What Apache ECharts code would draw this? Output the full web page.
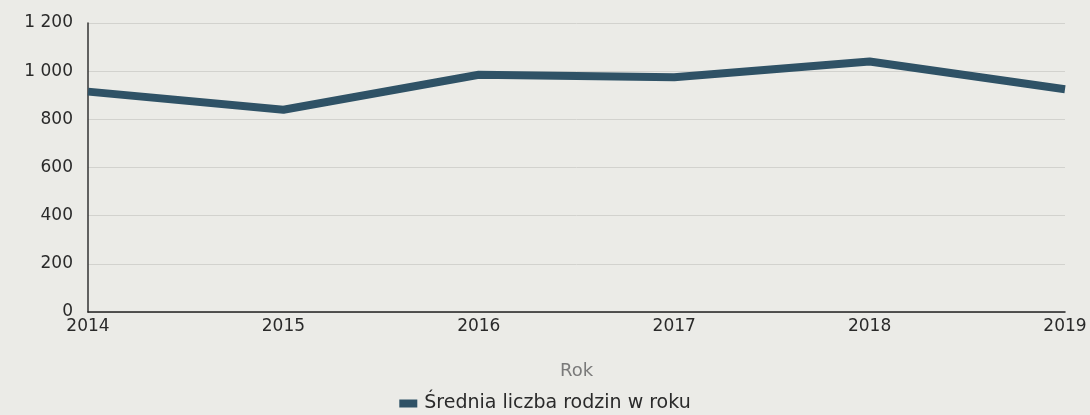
<!DOCTYPE html>
<html>
<head>
<meta charset="utf-8">
<script src="https://cdn.jsdelivr.net/npm/echarts@6/dist/echarts.min.js"></script>
<style>
  html, body { margin: 0; padding: 0; background: #ebebe7; }
  #chart { width: 1090px; height: 415px; }
</style>
</head>
<body>
<div id="chart"></div>
<script>
// dane
const lata = ['2014', '2015', '2016', '2017', '2018', '2019'];
const sredniaRodzin = [915, 840, 985, 975, 1040, 925];
const nazwaSerii = 'Średnia liczba rodzin w roku';

const chart = echarts.init(document.getElementById('chart'));

chart.setOption({
  backgroundColor: '#ebebe7',
  textStyle: { fontFamily: '"DejaVu Sans", "Open Sans", sans-serif' },
  grid: { left: 88, right: 25, top: 23, bottom: 103 },
  legend: {
    bottom: -3,
    left: 'center',
    itemWidth: 18,
    itemHeight: 8,
    itemGap: 8,
    icon: 'rect',
    textStyle: { fontSize: 19, color: '#2a2a2a', padding: [0, 0, 0, 2] },
    data: [nazwaSerii]
  },
  xAxis: {
    type: 'category',
    data: lata,
    boundaryGap: false,
    name: 'Rok',
    nameLocation: 'middle',
    nameGap: 50,
    nameTextStyle: { fontSize: 18, color: '#7a7a7a' },
    axisLine: { lineStyle: { color: '#222', width: 1.5 } },
    axisTick: { show: false },
    axisLabel: { fontSize: 17, color: '#2a2a2a', margin: 6 }
  },
  yAxis: {
    type: 'value',
    min: 0,
    max: 1200,
    interval: 200,
    axisLine: { show: true, lineStyle: { color: '#333', width: 1.5 } },
    axisTick: { show: false },
    splitLine: { lineStyle: { color: '#d2d2ce', width: 1 } },
    axisLabel: {
      fontSize: 17,
      color: '#2a2a2a',
      margin: 15,
      formatter: v => String(v).replace(/\B(?=(\d{3})+(?!\d))/g, ' ')
    }
  },
  series: [{
    name: nazwaSerii,
    type: 'line',
    data: sredniaRodzin,
    symbol: 'none',
    color: '#2f5266',
    lineStyle: { width: 8, color: '#2f5266', join: 'round' }
  }]
});
</script>
</body>
</html>
